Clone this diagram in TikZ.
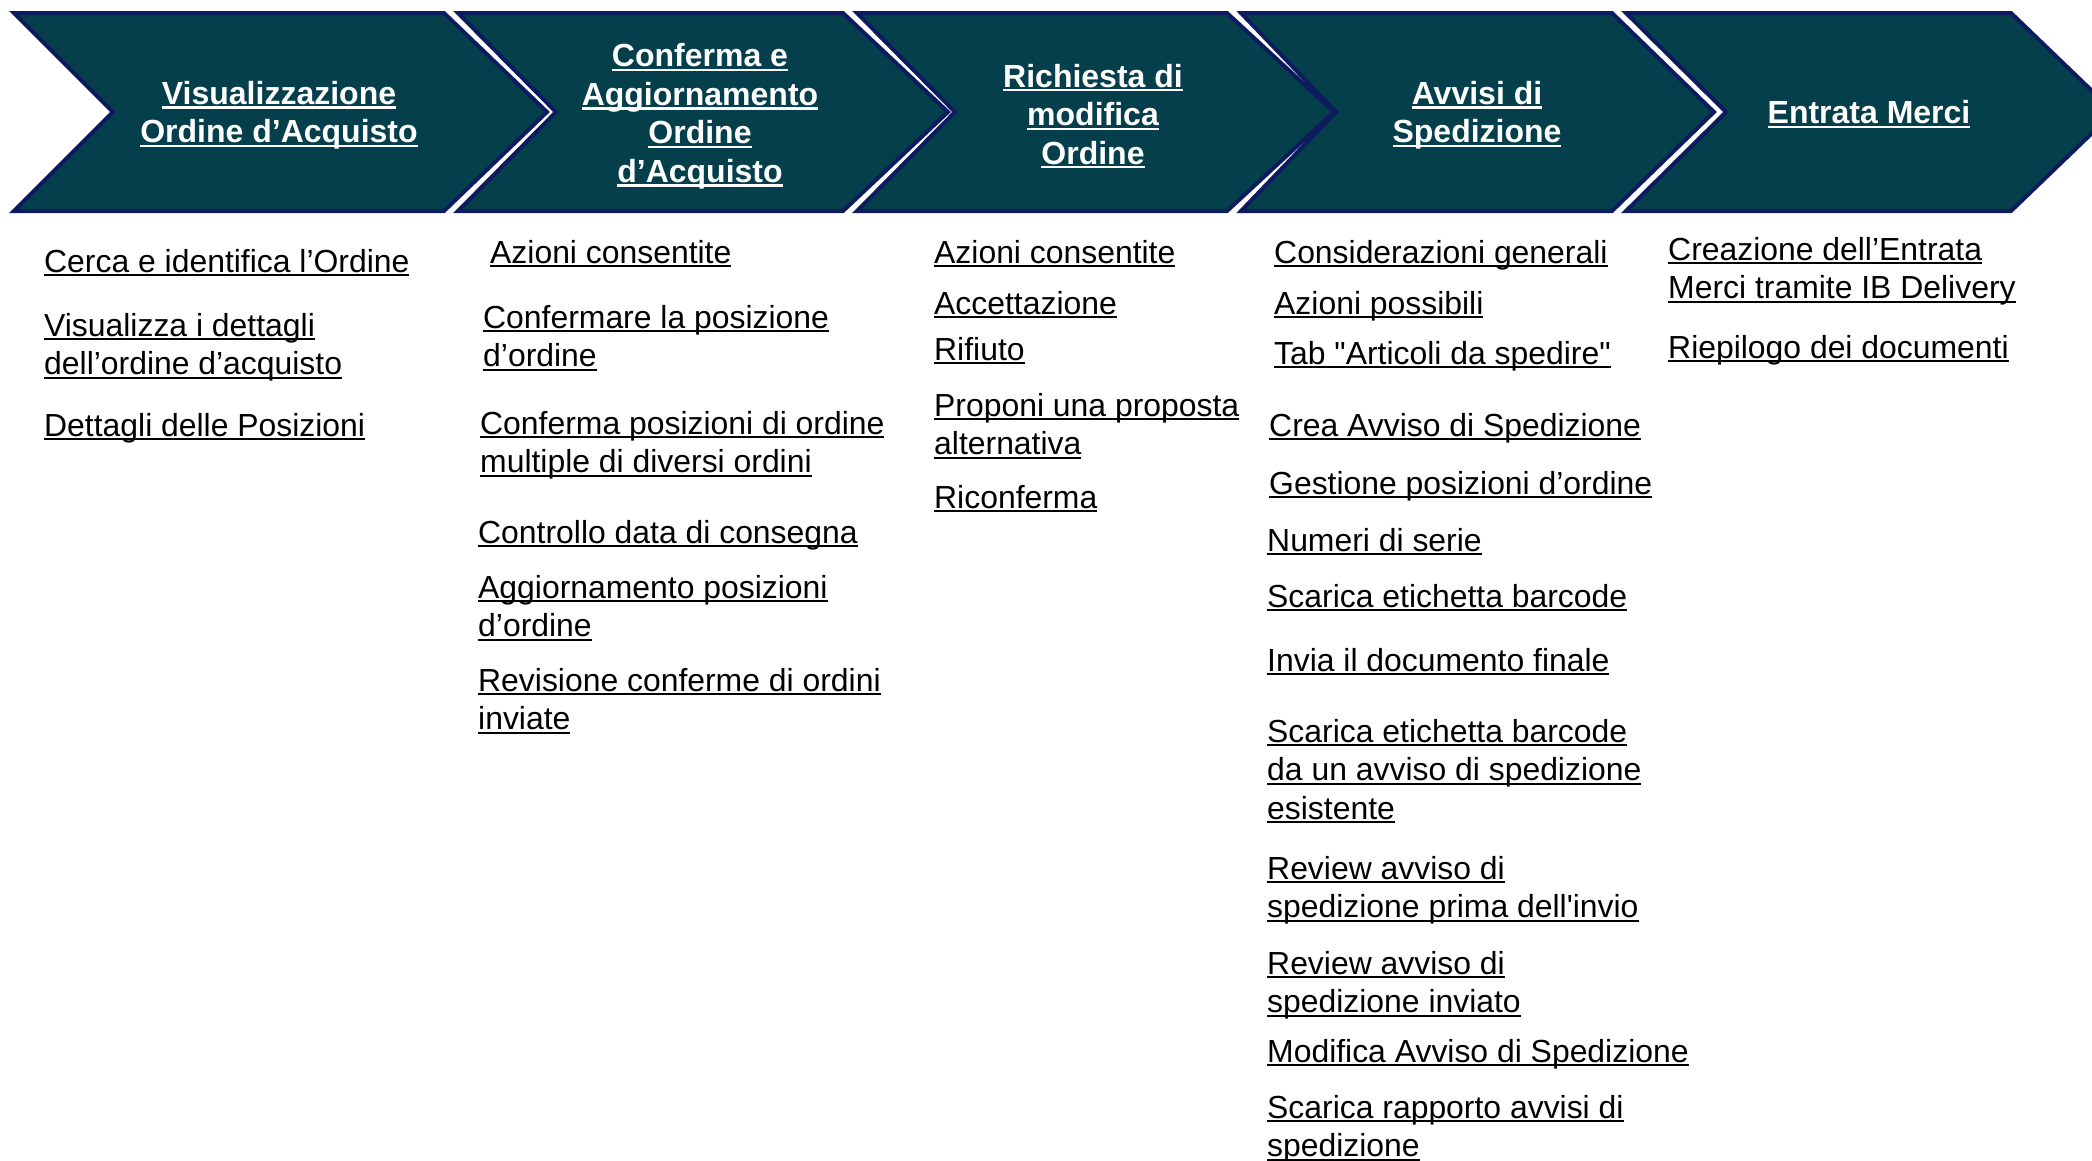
\documentclass[tikz,border=0pt]{standalone}
\usepackage{fontspec}
\setmainfont{Liberation Sans}[Ligatures=TeXOff]
\definecolor{chevfill}{HTML}{053F4B}
\definecolor{chevline}{HTML}{0C1C5E}
\newcommand{\uln}[1]{\setbox0=\hbox{#1}\rlap{\rule[-0.13em]{\wd0}{0.07em}}\box0\strut}
\tikzset{
  chev/.style={fill=chevfill, draw=chevline, line width=4pt, line join=miter},
  head/.style={text=white, font=\fontsize{32}{38.5}\selectfont\bfseries, align=center, inner sep=0pt, anchor=center},
  item/.style={text=black, font=\fontsize{31.9}{38.5}\selectfont, align=left, inner sep=0pt, anchor=north west}
}
\begin{document}
\begin{tikzpicture}[x=1pt,y=-1pt]
\useasboundingbox (0,0) rectangle (2092,1160);
% chevrons
\path[chev] (14,13) -- (444,13) -- (547,112) -- (444,211) -- (14,211) -- (113,112) -- cycle;
\path[chev] (458,13) -- (843,13) -- (948,112) -- (843,211) -- (458,211) -- (556,112) -- cycle;
\path[chev] (857,13) -- (1227,13) -- (1334,112) -- (1227,211) -- (857,211) -- (955,112) -- cycle;
\path[chev] (1241,13) -- (1612,13) -- (1714,112) -- (1612,211) -- (1241,211) -- (1336,112) -- cycle;
\path[chev] (1626,13) -- (2011,13) -- (2114,112) -- (2011,211) -- (1626,211) -- (1726,112) -- cycle;
% headers
\node[head] (h1) at (279,116) {\uln{Visualizzazione}\\\uln{Ordine d’Acquisto}};
\node[head] (h2) at (700,117) {\uln{Conferma e}\\\uln{Aggiornamento}\\\uln{Ordine}\\\uln{d’Acquisto}};
\node[head] (h3) at (1093,118) {\uln{Richiesta di}\\\uln{modifica}\\\uln{Ordine}};
\node[head] (h4) at (1477,116) {\uln{Avvisi di}\\\uln{Spedizione}};
\node[head] (h5) at (1869,116) {\uln{Entrata Merci}};
% column 1
\node[item] (a1) at (44,245) {\uln{Cerca e identifica l’Ordine}};
\node[item] (a2) at (44,309) {\uln{Visualizza i dettagli}\\\uln{dell’ordine d’acquisto}};
\node[item] (a3) at (44,409) {\uln{Dettagli delle Posizioni}};
% column 2
\node[item] (b1) at (490,236) {\uln{Azioni consentite}};
\node[item] (b2) at (483,301) {\uln{Confermare la posizione}\\\uln{d’ordine}};
\node[item] (b3) at (480,407) {\uln{Conferma posizioni di ordine}\\\uln{multiple di diversi ordini}};
\node[item] (b4) at (478,516) {\uln{Controllo data di consegna}};
\node[item] (b5) at (478,571) {\uln{Aggiornamento posizioni}\\\uln{d’ordine}};
\node[item] (b6) at (478,664) {\uln{Revisione conferme di ordini}\\\uln{inviate}};
% column 3
\node[item] (c1) at (934,236) {\uln{Azioni consentite}};
\node[item] (c2) at (934,287) {\uln{Accettazione}};
\node[item] (c3) at (934,333) {\uln{Rifiuto}};
\node[item] (c4) at (934,389) {\uln{Proponi una proposta}\\\uln{alternativa}};
\node[item] (c5) at (934,481) {\uln{Riconferma}};
% column 4
\node[item] (d1) at (1274,236) {\uln{Considerazioni generali}};
\node[item] (d2) at (1274,287) {\uln{Azioni possibili}};
\node[item] (d3) at (1274,337) {\uln{Tab "Articoli da spedire"}};
\node[item] (d4) at (1269,409) {\uln{Crea Avviso di Spedizione}};
\node[item] (d5) at (1269,467) {\uln{Gestione posizioni d’ordine}};
\node[item] (d6) at (1267,524) {\uln{Numeri di serie}};
\node[item] (d7) at (1267,580) {\uln{Scarica etichetta barcode}};
\node[item] (d8) at (1267,644) {\uln{Invia il documento finale}};
\node[item] (d9) at (1267,715) {\uln{Scarica etichetta barcode}\\\uln{da un avviso di spedizione}\\\uln{esistente}};
\node[item] (d10) at (1267,852) {\uln{Review avviso di}\\\uln{spedizione prima dell'invio}};
\node[item] (d11) at (1267,947) {\uln{Review avviso di}\\\uln{spedizione inviato}};
\node[item] (d12) at (1267,1035) {\uln{Modifica Avviso di Spedizione}};
\node[item] (d13) at (1267,1091) {\uln{Scarica rapporto avvisi di}\\\uln{spedizione}};
% column 5
\node[item] (e1) at (1668,233) {\uln{Creazione dell’Entrata}\\\uln{Merci tramite IB Delivery}};
\node[item] (e2) at (1668,331) {\uln{Riepilogo dei documenti}};
\end{tikzpicture}
\end{document}
